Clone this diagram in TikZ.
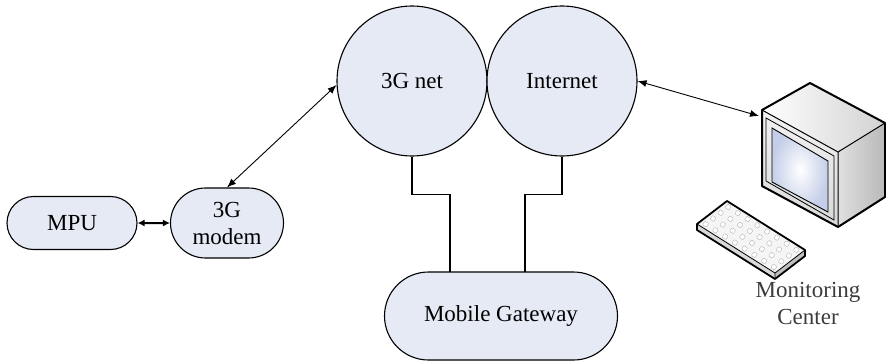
\documentclass[tikz,border=0pt]{standalone}
\usepackage{fontspec}
\setmainfont{Liberation Serif}
\usetikzlibrary{shapes.misc,arrows.meta}

\definecolor{boxfill}{RGB}{229,234,245}
\definecolor{labelgray}{RGB}{60,60,60}
\definecolor{screenblue}{RGB}{196,206,232}

\tikzset{
    pill/.style={rounded rectangle, draw, line width=1.1pt, fill=boxfill, inner sep=0pt},
    cloud/.style={circle, draw, line width=1.1pt, fill=boxfill, minimum size=150pt, inner sep=0pt},
    link/.style={line width=0.9pt, {Latex[length=9pt,width=7pt]}-{Latex[length=9pt,width=7pt]}},
    wire/.style={line width=1.1pt},
    key/.style={draw=gray!70, fill=white, line width=0.3pt, minimum size=4.5pt, inner sep=0pt, rounded corners=0.8pt}
}

\begin{document}
\begin{tikzpicture}[x=1pt, y=-1pt, font=\fontsize{23}{27}\selectfont]
    \useasboundingbox (0,0) rectangle (886,362);

    \node[pill, minimum width=130pt, minimum height=53pt] (mpu) at (72, 223) {MPU};
    \node[pill, minimum width=113pt, minimum height=70pt, align=center] (modem) at (227, 223) {3G\\modem};
    \node[cloud] (net) at (412, 81) {3G net};
    \node[cloud] (inet) at (562, 81) {Internet};
    \node[pill, minimum width=233pt, minimum height=88pt] (gw) at (501, 316) {Mobile Gateway};

    \coordinate (gwa) at (450, 272);
    \coordinate (gwb) at (525, 272);
    \coordinate (pc) at (759, 116);

    % links
    \draw[link, line width=2pt, {Latex[length=7pt,width=7pt]}-{Latex[length=7pt,width=7pt]}] (mpu) -- (modem);
    \draw[link] (modem.north) -- (net.183);
    \draw[link] (inet.east) -- (pc);
    \draw[wire] (net.south) -- ++(0,38) -| (gwa);
    \draw[wire] (inet.south) -- ++(0,38) -| (gwb);

    % monitor
    \shade[left color=white, right color=gray!35] (762,110) -- (810,83) -- (885,123) -- (838,152) -- cycle;
    \shade[left color=gray!25, right color=gray!55] (838,152) -- (885,123) -- (885,197) -- (838,227) -- cycle;
    \shade[top color=gray!10, bottom color=gray!30] (762,110) -- (838,152) -- (838,227) -- (762,186) -- cycle;
    \draw[line width=0.8pt] (766,118) -- (834,156) -- (834,220) -- (766,181) -- cycle;
    \shade[inner color=white, outer color=screenblue, draw=black, line width=0.9pt]
        (772,128) -- (828,161) -- (828,212) -- (772,182) -- cycle;
    \draw[line width=2pt, line join=round] (762,110) -- (810,83) -- (885,123) -- (885,197) -- (838,227) -- (762,186) -- cycle;
    \draw[line width=1pt] (762,110) -- (838,152) -- (838,227) (838,152) -- (885,123);

    % keyboard
    \fill[gray!30] (697,224) -- (775,273) -- (775,279) -- (697,230) -- cycle;
    \fill[gray!50] (775,273) -- (805,250) -- (805,256) -- (775,279) -- cycle;
    \fill[gray!8] (727,201) -- (805,250) -- (775,273) -- (697,224) -- cycle;
    \foreach \i in {0,...,7}
        \foreach \j in {0,...,3}
            \node[key, rotate=-32] (k\i\j) at ({727+(\i+.5)*9.75-(\j+.5)*7.5}, {201+(\i+.5)*6.125+(\j+.5)*5.75}) {};
    \draw[line width=1.8pt, line join=round] (727,201) -- (805,250) -- (805,256) -- (775,279) -- (697,230) -- (697,224) -- cycle;
    \draw[line width=0.8pt] (697,224) -- (775,273) -- (805,250) (775,273) -- (775,279);

    \node[text=labelgray, align=center] (mc) at (808, 303) {Monitoring\\Center};
\end{tikzpicture}
\end{document}
